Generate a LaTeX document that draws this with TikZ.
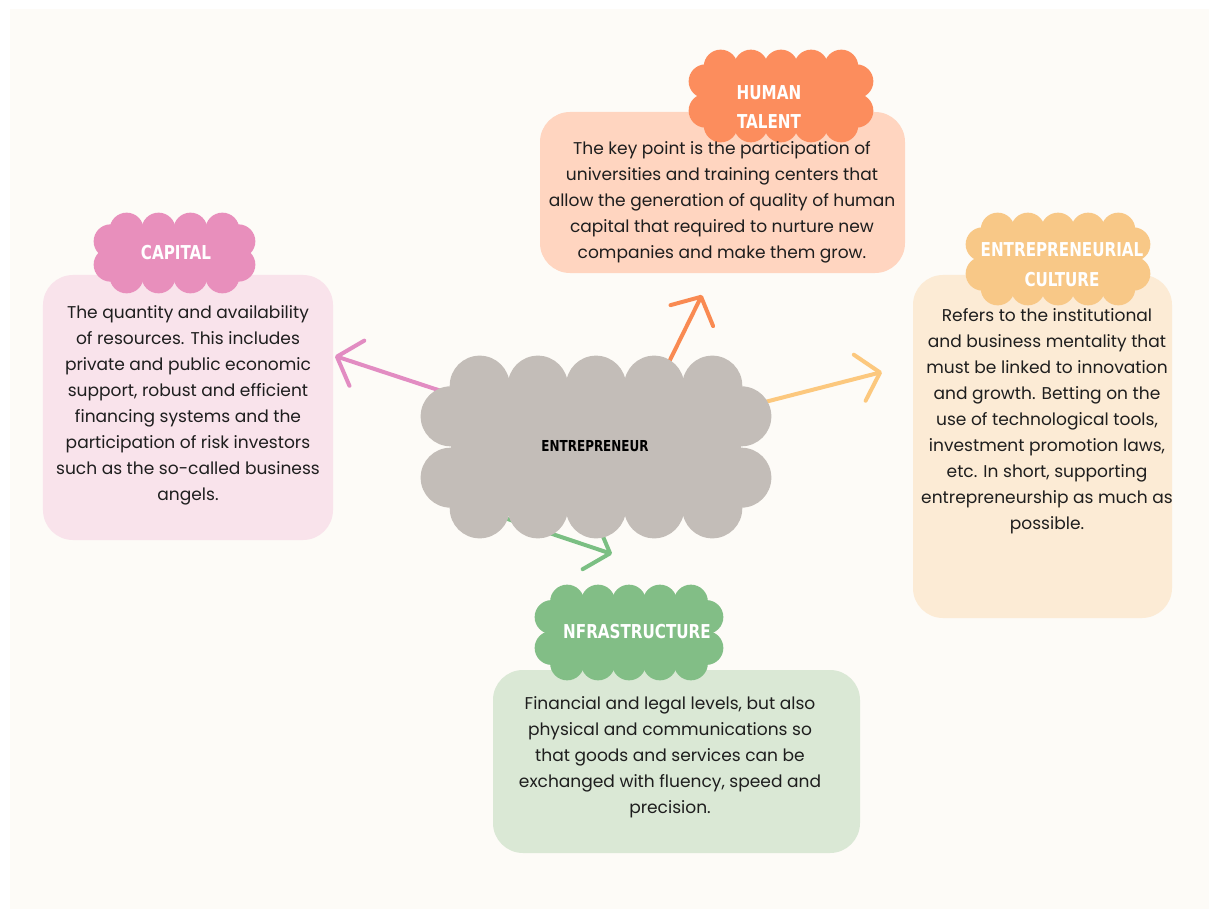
\documentclass[tikz,border=0pt]{standalone}
\usepackage{fontspec}
\setmainfont{Poppins}
\newfontfamily\headfont{DejaVu Sans Condensed Bold}[FakeStretch=0.88]
\usetikzlibrary{calc,arrows.meta,positioning}
\tikzset{>={Straight Barb[length=4.2mm,width=9.5mm,round]}}

\definecolor{paper}{HTML}{FDFBF7}
\definecolor{capsoft}{HTML}{F9E3EB}
\definecolor{capdeep}{HTML}{E88FBC}
\definecolor{humsoft}{HTML}{FFD5C0}
\definecolor{humdeep}{HTML}{FC8D5D}
\definecolor{culsoft}{HTML}{FCEBD5}
\definecolor{culdeep}{HTML}{F8C887}
\definecolor{infsoft}{HTML}{DAE8D5}
\definecolor{infdeep}{HTML}{82BE86}
\definecolor{hubgrey}{HTML}{C3BDB8}
\definecolor{capline}{HTML}{E28CC2}
\definecolor{humline}{HTML}{F98A52}
\definecolor{culline}{HTML}{FCC87E}
\definecolor{infline}{HTML}{7BBF83}
\definecolor{ink}{HTML}{1E1E1E}

\pgfdeclarelayer{base}
\pgfdeclarelayer{back}
\pgfdeclarelayer{puff}
\pgfsetlayers{base,back,puff,main}

\tikzset{
  core/.style={rectangle, inner sep=0pt},
  head/.style={inner sep=0pt, align=center, text=white,
    font=\headfont\fontsize{10.9}{17}\selectfont},
  card/.style={rectangle, rounded corners=6mm, inner sep=0pt},
  body/.style={inner sep=0pt, align=center, text=ink,
    font=\fontsize{9.7}{14.8}\selectfont},
  link/.style={->, line width=0.8mm, line cap=round},
}

% scallops round a cloud core: node, bumps across, bumps down, radius, colour
\newcommand\puffs[5]{%
  \foreach \i in {1,...,#2}{
    \fill[#5] ($(#1.north west)!{(\i-0.5)/#2}!(#1.north east)$) circle (#4);
    \fill[#5] ($(#1.south west)!{(\i-0.5)/#2}!(#1.south east)$) circle (#4);}
  \foreach \j in {1,...,#3}{
    \fill[#5] ($(#1.north west)!{(\j-0.5)/#3}!(#1.south west)$) circle (#4);
    \fill[#5] ($(#1.north east)!{(\j-0.5)/#3}!(#1.south east)$) circle (#4);}
}

\begin{document}
\begin{tikzpicture}[x=0.2mm,y=-0.2mm]
\begin{pgfonlayer}{base}
\fill[white] (0,0) rectangle (1209,909);
\fill[paper] (10,9) rectangle (1209,909);
\end{pgfonlayer}

% cards
\begin{pgfonlayer}{back}
\node[card, fill=capsoft, minimum width=58mm, minimum height=53mm] (capcard) at (188,407.5) {};
\node[card, fill=humsoft, minimum width=73mm, minimum height=32.2mm] (humcard) at (722.5,192.5) {};
\node[card, fill=culsoft, minimum width=51.8mm, minimum height=68.6mm] (culcard) at (1042.5,446.5) {};
\node[card, fill=infsoft, minimum width=73.4mm, minimum height=36.6mm] (infcard) at (676.5,761.5) {};
\end{pgfonlayer}

\node[body] (captext) at (188,405) {The quantity and availability\\of resources. This includes\\private and public economic\\support, robust and efficient\\financing systems and the\\participation of risk investors\\such as the so-called business\\angels.};
\node[body] (humtext) at (722,202) {The key point is the participation of\\universities and training centers that\\allow the generation of quality of human\\capital that required to nurture new\\companies and make them grow.};
\node[body] (cultext) at (1047,421) {Refers to the institutional\\and business mentality that\\must be linked to innovation\\and growth. Betting on the\\use of technological tools,\\investment promotion laws,\\etc. In short, supporting\\entrepreneurship as much as\\possible.};
\node[body] (inftext) at (670,757) {Financial and legal levels, but also\\physical and communications so\\that goods and services can be\\exchanged with fluency, speed and\\precision.};

% clouds
\node[core, fill=capdeep, minimum width=25.4mm, minimum height=9.2mm] (capcloud) at (174.5,253) {};
\node[core, fill=humdeep, minimum width=30mm, minimum height=11.6mm] (humcloud) at (781,96) {};
\node[core, fill=culdeep, minimum width=30mm, minimum height=11.6mm] (culcloud) at (1058,259) {};
\node[core, fill=infdeep, minimum width=30.8mm, minimum height=12.2mm] (infcloud) at (629,632.5) {};
\node[core, fill=hubgrey, minimum width=58mm, minimum height=24.4mm] (ent) at (596,447) {};

\begin{pgfonlayer}{puff}
\puffs{capcloud}{4}{2}{17}{capdeep}
\puffs{humcloud}{5}{2}{17}{humdeep}
\puffs{culcloud}{5}{2}{17}{culdeep}
\puffs{infcloud}{5}{2}{17}{infdeep}
\puffs{ent}{5}{2}{30}{hubgrey}
\end{pgfonlayer}

% cloud titles
\node[head] (caphead) at (176,253) {CAPITAL};
\node[head] (humhead) at (769,107) {HUMAN\\TALENT};
\node[head] (culhead) at (1062,265) {ENTREPRENEURIAL\\CULTURE};
\node[head] (infhead) at (637,632) {NFRASTRUCTURE};
\node[head, text=black, font=\headfont\fontsize{8.6}{10}\selectfont] (enthead) at (595,446) {ENTREPRENEUR};

% arrows out of the hub
\coordinate (capend) at (335,356);
\coordinate (humend) at (702,295);
\coordinate (culend) at (882,372);
\coordinate (infend) at (612,554);
\begin{pgfonlayer}{back}
\draw[link, capline] (ent.160) -- (capend);
\draw[link, humline] (ent.45) -- (humend);
\draw[link, culline] (ent.15) -- (culend);
\draw[link, infline] (ent.200) -- (infend);
\end{pgfonlayer}
\end{tikzpicture}
\end{document}
